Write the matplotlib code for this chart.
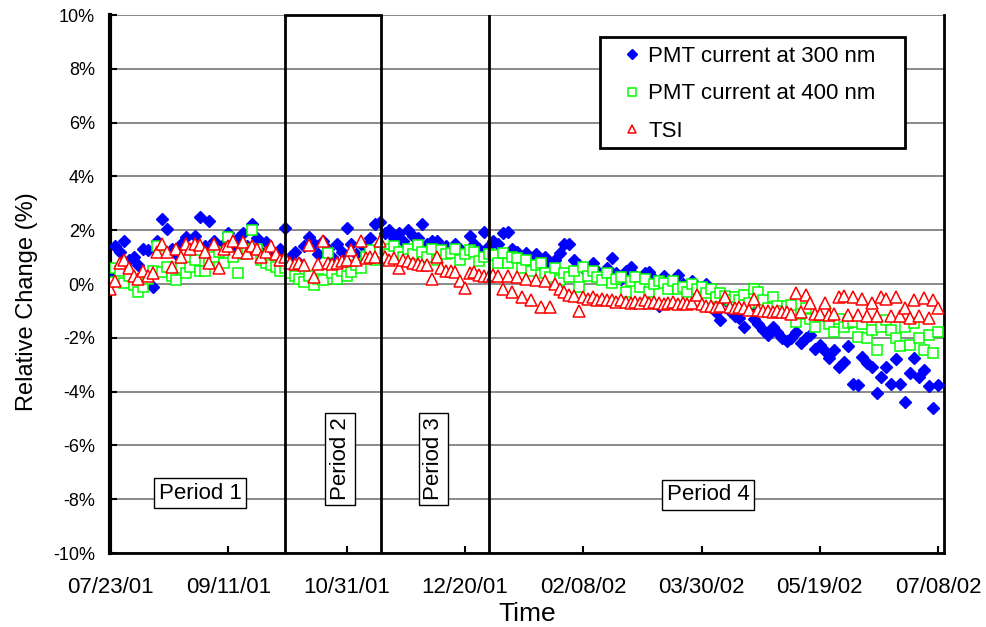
import numpy as np
import pandas as pd
import matplotlib
matplotlib.use('Agg')
import matplotlib.pyplot as plt
import matplotlib.dates as mdates
from matplotlib.patches import Rectangle

plt.rcParams['font.family'] = ['Liberation Sans', 'DejaVu Sans']

# sample days since 07/23/01 (every 2 days)
start = pd.Timestamp('2001-07-23')
day_offsets = list(range(0, 351, 2))

# relative change (%)
pmt_300 = [0.45, 1.4, 1.2, 1.6, 0.9, 1.0, 0.7, 1.3, 1.25, -0.1, 1.6, 2.4, 2.05, 1.3, 1.1, 1.5,
           1.75, 1.3, 1.8, 2.5, 1.4, 2.35, 1.6, 1.2, 1.5, 1.9, 1.3, 1.7, 1.9, 1.4, 2.25,
           1.7, 1.2, 1.55, 1.0, 0.9, 1.3, 2.1,
           1.0, 1.2, 0.8, 1.4, 1.75, 1.5, 1.1, 1.6, 1.3, 1.0, 1.5, 1.2, 2.08, 1.5, 1.1, 1.5, 1.4, 1.7, 2.25, 2.3,
           1.9, 2.0, 1.7, 1.9, 1.6, 2.0, 1.8, 1.7, 2.25, 1.5, 1.6, 1.6, 1.3, 1.4, 1.2, 1.5, 1.3, 1.2, 1.8, 1.5,
           1.3, 1.95, 1.4,
           1.6, 1.5, 1.9, 1.95, 1.3, 1.2, 1.0, 1.15, 0.9, 1.1, 0.8, 1.0, 0.7, 0.9, 1.15, 1.5, 1.5, 0.9, 0.7,
           0.6, 0.4, 0.8, 0.5, 0.3, 0.6, 0.95, 0.4, 0.2, 0.5, 0.65, 0.3, 0.1, 0.4, 0.45, 0.2, -0.8, 0.3, 0.1,
           -0.1, 0.35, 0.0, -0.2, 0.1, -0.3, -0.1,
           0.0, -0.85, -1.04, -1.34, -0.6, -1.0, -1.2, -1.26, -1.6, -0.9, -1.3, -1.5, -1.7, -1.9, -1.6, -1.8, -2.0,
           -2.1, -2.0, -1.8, -2.2, -2.0, -1.9, -2.4, -2.27, -2.5, -2.75, -2.45, -3.1, -2.9, -2.3, -3.7, -3.75,
           -2.7, -2.95, -3.1, -4.05, -3.45, -3.1, -3.7, -2.8, -3.7, -4.4, -3.3, -2.75, -3.45, -3.2, -3.8, -4.6,
           -3.75]

pmt_400 = [0.07, 0.6, 0.5, 0.03, 0.3, -0.03, -0.3, -0.1, 0.2, 0.5, 1.4, 0.45, 0.65, 0.3, 0.15, 0.6,
           0.4, 0.65, 0.9, 0.5, 0.5, 0.8, 1.0, 1.2, 0.8, 1.75, 1.0, 0.4, 1.1, 1.3, 2.0,
           1.3, 0.9, 0.8, 0.7, 0.65, 0.5, 0.6,
           0.4, 0.3, 0.2, 0.07, 0.3, -0.04, 0.2, 0.15, 1.15, 0.4, 0.2, 0.5, 0.3, 0.45, 0.7, 0.6, 1.0, 1.26, 0.9, 1.2,
           1.3, 1.1, 1.4, 1.2, 1.0, 1.3, 1.1, 1.45, 1.2, 1.0, 1.3, 0.9, 1.26, 1.1, 1.15, 1.3, 0.9, 1.1, 1.26, 1.2,
           0.85, 1.0, 1.1,
           1.08, 0.8, 1.15, 0.8, 1.0, 0.97, 0.6, 0.9, 0.5, 0.7, 0.78, 0.4, 0.26, 0.6, 0.15, 0.4, 0.26, 0.5, -0.1,
           0.65, 0.3, 0.5, 0.26, 0.15, 0.4, 0.03, 0.2, 0.26, -0.3, 0.1, 0.26, -0.1, 0.2, -0.3, 0.0, 0.1, 0.03,
           -0.2, 0.1, -0.2, -0.1, -0.3, 0.0, -0.2, -0.1,
           -0.33, -0.2, -0.5, -0.33, -0.45, -0.6, -0.5, -0.6, -0.4, -0.7, -0.2, -0.3, -0.6, -0.9, -0.5, -0.8, -1.0,
           -0.8, -0.78, -1.4, -1.1, -0.9, -1.3, -1.6, -1.2, -1.0, -1.5, -1.8, -1.3, -1.6, -1.45, -1.4, -1.97,
           -1.5, -2.0, -1.7, -2.45, -1.6, -1.34, -1.7, -2.0, -2.3, -1.6, -2.27, -1.45, -2.0, -2.45, -1.9, -2.57,
           -1.8]

tsi = [-0.2, 0.1, 0.8, 0.9, 0.6, 0.3, 0.2, 0.5, 0.3, 0.4, 1.2, 1.5, 1.2, 0.65, 1.3, 1.0,
       1.5, 1.3, 1.5, 1.45, 1.2, 0.8, 1.5, 0.6, 1.3, 1.4, 1.6, 1.2, 1.55, 1.15, 1.4,
       1.3, 1.0, 1.2, 1.4, 1.1, 0.9, 1.0,
       0.8, 0.75, 0.8, 0.7, 1.45, 0.25, 0.75, 1.6, 0.8, 0.75, 0.8, 0.85, 0.9, 1.25, 0.9, 1.6, 0.95, 1.0, 1.0, 1.6,
       1.0, 0.9, 0.95, 0.6, 0.9, 0.85, 0.8, 0.75, 0.7, 0.7, 0.2, 1.0, 0.6, 0.5, 0.5, 0.45, 0.1, -0.15, 0.4, 0.45,
       0.35, 0.3, 0.3,
       0.35, 0.3, -0.2, 0.3, -0.3, 0.25, -0.5, 0.2, -0.6, 0.15, -0.85, 0.1, -0.85, 0.0, -0.2, -0.3, -0.4, -0.45, -1.0,
       -0.5, -0.55, -0.5, -0.6, -0.55, -0.6, -0.6, -0.65, -0.6, -0.65, -0.7, -0.65, -0.7, -0.6, -0.7, -0.65, -0.7,
       -0.75, -0.7, -0.65, -0.75, -0.7, -0.75, -0.7, -0.4, -0.75,
       -0.8, -0.8, -0.85, -0.8, -0.5, -0.85, -0.9, -0.85, -0.9, -0.95, -0.55, -0.95, -1.0, -1.0, -1.05, -1.0, -1.05,
       -1.05, -1.1, -0.35, -1.05, -0.4, -0.7, -1.1, -1.1, -0.7, -1.15, -1.1, -0.5, -0.45, -1.15, -0.5, -1.15,
       -0.55, -1.2, -0.7, -1.2, -0.5, -0.55, -1.2, -0.5, -1.2, -0.9, -1.26, -0.6, -1.2, -0.52, -1.26, -0.6,
       -0.9]

series_labels = ['PMT current at 300 nm', 'PMT current at 400 nm', 'TSI']
period_bounds = ['2001-10-05T00:00', '2001-11-14T12:00', '2001-12-30T00:00']
period_names = ['Period 1', 'Period 2', 'Period 3', 'Period 4']
tick_dates = ['2001-07-23', '2001-09-11', '2001-10-31', '2001-12-20',
              '2002-02-08', '2002-03-30', '2002-05-19', '2002-07-08']

dates = start + pd.to_timedelta(day_offsets, unit='D')

fig = plt.figure(figsize=(9.87, 6.27), dpi=100)
ax = fig.add_axes([0.1115, 0.118, 0.845, 0.858])

ax.plot(dates, pmt_300, linestyle='none', marker='D', ms=6.5,
        color='#0000ff', mec='#0000ff', label=series_labels[0], zorder=3)
ax.plot(dates, pmt_400, linestyle='none', marker='s', ms=7.5,
        mfc='white', mec='#00ff00', mew=1.1, label=series_labels[1], zorder=4)
ax.plot(dates, tsi, linestyle='none', marker='^', ms=8,
        mfc='white', mec='#ff0000', mew=1.1, label=series_labels[2], zorder=5)

ax.set_xlim(start, start + pd.Timedelta(days=352.5))
ax.set_ylim(-10, 10)
ax.set_yticks(np.arange(-10, 11, 2))
ax.set_yticklabels(['%d%%' % v for v in np.arange(-10, 11, 2)])
ax.set_xticks(pd.to_datetime(tick_dates))
ax.xaxis.set_major_formatter(mdates.DateFormatter('%m/%d/%y'))

ax.grid(axis='y', color='#808080', linewidth=1.3, zorder=0)
ax.tick_params(direction='in', length=5, width=1.5)
ax.tick_params(axis='x', labelsize=16, pad=17)
ax.tick_params(axis='y', labelsize=13, pad=11)

for side in ['left', 'bottom', 'right']:
    ax.spines[side].set_linewidth(2)
    ax.spines[side].set_color('black')
ax.spines['left'].set_linewidth(3)
ax.spines['top'].set_visible(False)

# period separators
pb = pd.to_datetime(period_bounds, format='ISO8601')
for d in pb:
    ax.axvline(d, color='black', linewidth=2, zorder=6)
ax.plot([pb[0], pb[1]], [10, 10], color='black', linewidth=2, zorder=6, clip_on=False)

box = dict(boxstyle='square,pad=0.2', facecolor='white', edgecolor='black', linewidth=1)
ax.text(start + pd.Timedelta(days=38), -7.77, period_names[0], ha='center', va='center',
        fontsize=16, bbox=box, zorder=7)
ax.text(start + pd.Timedelta(days=97.2), -6.5, period_names[1], ha='center', va='center',
        fontsize=16, rotation=90, bbox=box, zorder=7)
ax.text(start + pd.Timedelta(days=136.7), -6.5, period_names[2], ha='center', va='center',
        fontsize=16, rotation=90, bbox=box, zorder=7)
ax.text(start + pd.Timedelta(days=252.7), -7.84, period_names[3], ha='center', va='center',
        fontsize=16, bbox=box, zorder=7)

ax.set_xlabel('Time', fontsize=19, labelpad=3)
ax.set_ylabel('Relative Change (%)', fontsize=17)
ax.yaxis.set_label_coords(-0.086, 0.468)

# legend with an Excel-like frame drawn separately
frame = Rectangle((0.6079, 0.764), 0.309, 0.177, transform=fig.transFigure,
                  facecolor='white', edgecolor='black', linewidth=2, zorder=7, clip_on=False)
ax.add_patch(frame)
leg = ax.legend(loc='upper left', bbox_to_anchor=(0.6145, 0.9546),
                bbox_transform=fig.transFigure, fontsize=16, markerscale=0.8,
                frameon=False, handletextpad=0.38, borderpad=0.3,
                labelspacing=0.73, handlelength=0.7)
leg.set_zorder(8)

fig.savefig('out.png', dpi=100)
